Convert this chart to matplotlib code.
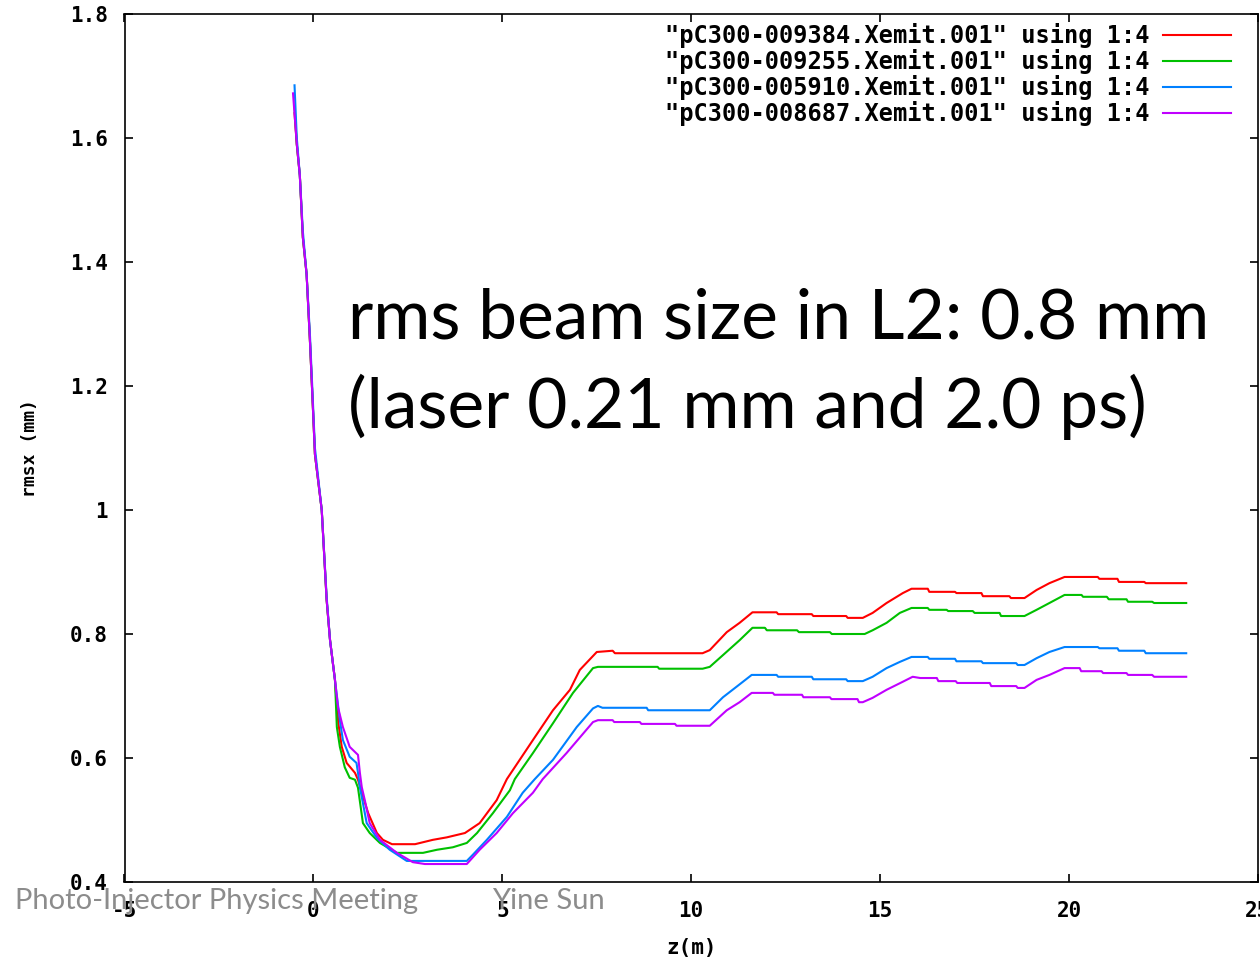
# rms beam size along z for four Xemit runs (gnuplot style re-drawing)

import numpy as np
import matplotlib
matplotlib.use("Agg")
import matplotlib.pyplot as plt
from matplotlib.ticker import FuncFormatter, MultipleLocator

# Run labels as in the gnuplot key
labels = [
    '"pC300-009384.Xemit.001" using 1:4',
    '"pC300-009255.Xemit.001" using 1:4',
    '"pC300-005910.Xemit.001" using 1:4',
    '"pC300-008687.Xemit.001" using 1:4',
]
colors = ["#ff0000", "#00c000", "#0080ff", "#c000ff"]

# z (m) and rmsx (mm)
z_red = [-0.50, -0.44, -0.36, -0.28, -0.18, -0.09, -0.01, 0.04, 0.22, 0.35,
         0.44, 0.57, 0.66, 0.75, 0.88, 1.10, 1.18, 1.28, 1.45, 1.68,
         1.84, 2.08, 2.69, 3.16, 3.53, 4.01, 4.40, 4.85, 5.12, 5.81,
         6.34, 6.79, 7.05, 7.50, 7.92, 7.98, 10.30, 10.49, 10.94, 11.28,
         11.62, 12.26, 12.30, 13.19, 13.23, 14.10, 14.14, 14.54, 14.80, 15.17,
         15.60, 15.83, 16.26, 16.30, 16.98, 17.02, 17.68, 17.72, 18.42, 18.46,
         18.82, 19.14, 19.48, 19.88, 20.76, 20.80, 21.28, 21.32, 21.99, 22.03,
         23.10]
rms_red = [1.64, 1.59, 1.54, 1.44, 1.38, 1.27, 1.16, 1.09, 1.00, 0.855,
           0.79, 0.726, 0.656, 0.618, 0.592, 0.576, 0.565, 0.544, 0.511, 0.479,
           0.468, 0.461, 0.461, 0.468, 0.472, 0.479, 0.495, 0.532, 0.566, 0.629,
           0.677, 0.710, 0.742, 0.771, 0.773, 0.769, 0.769, 0.774, 0.803, 0.818,
           0.835, 0.835, 0.832, 0.832, 0.829, 0.829, 0.826, 0.826, 0.834, 0.850,
           0.866, 0.873, 0.873, 0.868, 0.868, 0.866, 0.866, 0.861, 0.861, 0.858,
           0.858, 0.871, 0.882, 0.892, 0.892, 0.889, 0.889, 0.884, 0.884, 0.882,
           0.882]

z_green = [-0.50, -0.44, -0.36, -0.28, -0.18, -0.09, -0.01, 0.04, 0.22, 0.35,
           0.44, 0.57, 0.62, 0.70, 0.83, 0.96, 1.10, 1.18, 1.31, 1.49,
           1.76, 2.21, 2.90, 3.27, 3.69, 4.06, 4.33, 4.75, 5.20, 5.33,
           5.81, 6.34, 6.87, 7.40, 7.53, 9.11, 9.15, 10.30, 10.49, 10.84,
           11.28, 11.62, 11.95, 12.00, 12.80, 12.85, 13.67, 13.72, 14.59, 14.80,
           15.17, 15.52, 15.83, 16.26, 16.30, 16.76, 16.80, 17.45, 17.50, 18.16,
           18.20, 18.82, 19.14, 19.48, 19.88, 20.33, 20.37, 21.00, 21.05, 21.52,
           21.56, 22.20, 22.25, 23.10]
rms_green = [1.65, 1.59, 1.54, 1.44, 1.38, 1.27, 1.16, 1.09, 1.00, 0.855,
             0.79, 0.726, 0.650, 0.618, 0.585, 0.568, 0.565, 0.552, 0.495, 0.479,
             0.463, 0.447, 0.447, 0.452, 0.456, 0.463, 0.479, 0.511, 0.548, 0.566,
             0.608, 0.656, 0.705, 0.745, 0.747, 0.747, 0.744, 0.744, 0.747, 0.766,
             0.790, 0.810, 0.810, 0.806, 0.806, 0.803, 0.803, 0.800, 0.800, 0.806,
             0.818, 0.834, 0.842, 0.842, 0.839, 0.839, 0.837, 0.837, 0.834, 0.834,
             0.829, 0.829, 0.839, 0.850, 0.863, 0.863, 0.860, 0.860, 0.856, 0.856,
             0.852, 0.852, 0.850, 0.850]

z_blue = [-0.50, -0.44, -0.36, -0.28, -0.18, -0.09, -0.01, 0.04, 0.22, 0.35,
          0.44, 0.57, 0.70, 0.78, 0.96, 1.14, 1.18, 1.23, 1.41, 1.68,
          2.02, 2.47, 4.06, 4.22, 4.59, 5.12, 5.54, 5.86, 6.34, 6.97,
          7.40, 7.53, 7.65, 8.82, 8.86, 10.49, 10.84, 11.20, 11.60, 12.26,
          12.30, 13.19, 13.23, 14.10, 14.14, 14.54, 14.80, 15.17, 15.52, 15.83,
          16.26, 16.30, 16.98, 17.02, 17.68, 17.72, 18.60, 18.64, 18.82, 19.14,
          19.48, 19.88, 20.76, 20.80, 21.28, 21.32, 21.99, 22.03, 23.10]
rms_blue = [1.685, 1.60, 1.54, 1.45, 1.38, 1.28, 1.17, 1.10, 1.00, 0.86,
            0.79, 0.726, 0.661, 0.629, 0.602, 0.592, 0.576, 0.553, 0.495, 0.471,
            0.452, 0.434, 0.434, 0.444, 0.468, 0.505, 0.544, 0.566, 0.597, 0.650,
            0.680, 0.684, 0.681, 0.681, 0.677, 0.677, 0.698, 0.715, 0.734, 0.734,
            0.731, 0.731, 0.727, 0.727, 0.724, 0.724, 0.731, 0.745, 0.755, 0.763,
            0.763, 0.760, 0.760, 0.756, 0.756, 0.753, 0.753, 0.750, 0.750, 0.761,
            0.771, 0.779, 0.779, 0.777, 0.777, 0.773, 0.773, 0.769, 0.769]

z_magenta = [-0.54, -0.44, -0.36, -0.28, -0.18, -0.09, -0.01, 0.04, 0.22, 0.35,
             0.44, 0.57, 0.65, 0.78, 0.96, 1.18, 1.23, 1.28, 1.36, 1.49,
             1.76, 2.21, 2.63, 2.95, 4.06, 4.40, 4.85, 5.28, 5.81, 6.07,
             6.70, 7.40, 7.53, 7.92, 7.96, 8.64, 8.68, 9.57, 9.61, 10.49,
             10.94, 11.28, 11.60, 12.16, 12.20, 12.93, 12.97, 13.67, 13.71, 14.40,
             14.44, 14.54, 14.80, 15.17, 15.60, 15.86, 16.06, 16.50, 16.54, 17.00,
             17.04, 17.90, 17.94, 18.60, 18.64, 18.82, 19.14, 19.48, 19.88, 20.28,
             20.32, 20.86, 20.90, 21.52, 21.56, 22.20, 22.25, 23.10]
rms_magenta = [1.672, 1.59, 1.54, 1.44, 1.38, 1.27, 1.16, 1.09, 1.00, 0.855,
               0.79, 0.726, 0.682, 0.650, 0.618, 0.605, 0.576, 0.553, 0.532, 0.495,
               0.468, 0.447, 0.432, 0.429, 0.429, 0.452, 0.479, 0.511, 0.544, 0.566,
               0.608, 0.658, 0.661, 0.661, 0.658, 0.658, 0.655, 0.655, 0.652, 0.652,
               0.677, 0.690, 0.705, 0.705, 0.702, 0.702, 0.698, 0.698, 0.695, 0.695,
               0.690, 0.690, 0.697, 0.710, 0.723, 0.731, 0.729, 0.729, 0.724, 0.724,
               0.721, 0.721, 0.716, 0.716, 0.713, 0.713, 0.726, 0.734, 0.745, 0.745,
               0.740, 0.740, 0.737, 0.737, 0.734, 0.734, 0.731, 0.731]

zs = [z_red, z_green, z_blue, z_magenta]
rms = [rms_red, rms_green, rms_blue, rms_magenta]

W, H = 1260, 958
fig = plt.figure(figsize=(W / 100, H / 100), dpi=100)
ax = fig.add_axes([124.5 / W, 1 - 882 / H, (1258 - 124.5) / W, (882 - 14) / H])

for z, r, c, lab in zip(zs, rms, colors, labels):
    ax.plot(z, r, color=c, lw=1.5, label=lab)

ax.set_xlim(-5, 25)
ax.set_ylim(0.4, 1.8)
ax.xaxis.set_major_locator(MultipleLocator(5))
ax.yaxis.set_major_locator(MultipleLocator(0.2))
fmt = FuncFormatter(lambda v, p: "%g" % round(v, 3))
ax.xaxis.set_major_formatter(fmt)
ax.yaxis.set_major_formatter(fmt)

mono = dict(family="DejaVu Sans Mono", weight="bold")
ax.tick_params(direction="in", top=True, right=True, length=6, width=1.2,
               labelsize=15)
ax.tick_params(axis="x", pad=14)
ax.tick_params(axis="y", pad=12)
for t in ax.get_xticklabels() + ax.get_yticklabels():
    t.set_fontfamily("DejaVu Sans Mono")
    t.set_fontweight("bold")
for s in ax.spines.values():
    s.set_linewidth(1.2)

ax.set_xlabel("z(m)", fontsize=15, labelpad=12, **mono)
ax.set_ylabel("rmsx (mm)", fontsize=13, labelpad=22, **mono)

# gnuplot style key: text first, line sample after
ax.legend(loc="upper right", bbox_to_anchor=(1231 / W, 1 - 23 / H),
          bbox_transform=fig.transFigure, frameon=False, markerfirst=False,
          prop=dict(family="DejaVu Sans Mono", weight="bold", size=17),
          handlelength=2.9, handletextpad=0.55, labelspacing=0.04,
          borderpad=0, borderaxespad=0)

# slide annotation
fig.text(348 / W, 1 - 338 / H, "rms beam size in L2: 0.8 mm",
         family="Lato", fontsize=50, va="baseline", ha="left")
fig.text(348 / W, 1 - 428 / H, "(laser 0.21 mm and 2.0 ps)",
         family="Lato", fontsize=50, va="baseline", ha="left")

# slide footer
fig.text(15 / W, 1 - 901 / H, "Photo-Injector Physics Meeting",
         family="Lato", fontsize=21, color="#8c8c8c", va="center", ha="left")
fig.text(492 / W, 1 - 901 / H, "Yine Sun",
         family="Lato", fontsize=21, color="#8c8c8c", va="center", ha="left")

fig.savefig("out.png", dpi=100)
